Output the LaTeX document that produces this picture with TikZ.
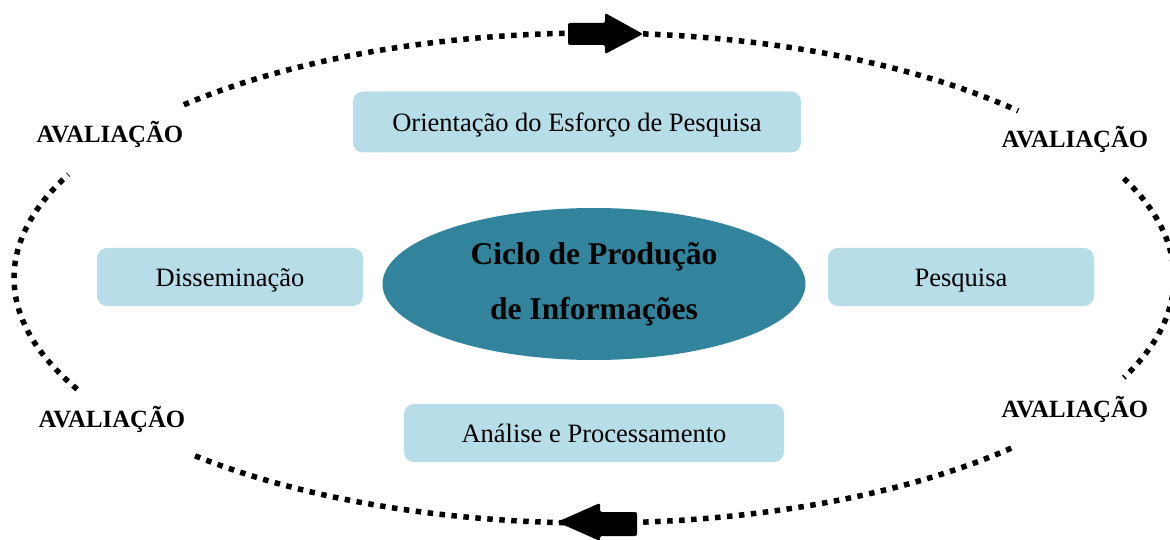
\documentclass[tikz,border=0pt]{standalone}
\usepackage{fontspec}
\setmainfont{Liberation Serif}
\usetikzlibrary{shapes.geometric}
\definecolor{caixa}{HTML}{B7DDE8}
\definecolor{centro}{HTML}{31849B}

\begin{document}
\begin{tikzpicture}[x=1pt, y=-1pt,
        etapa/.style={fill=caixa, rounded corners=10pt, inner sep=0pt, minimum height=58pt, text height=24.5pt, text depth=6pt, font=\fontsize{26.5}{30}\selectfont},
        avaliacao/.style={anchor=base, font=\fontsize{24.8}{26}\selectfont\bfseries},
        pontilhado/.style={line width=5.5pt, dash pattern=on 5.5pt off 6.5pt},
        seta/.style={fill=black, rounded corners=2pt}]
        \clip (0,0) rectangle (1170,540);
        \coordinate (c) at (594,278);

        % centro
        \node [ellipse, fill=centro, minimum width=423pt, minimum height=152pt, inner sep=0pt, align=center,
            font=\fontsize{31.6}{55}\selectfont\bfseries] (ciclo) at (594,284) {Ciclo de Produção\\de Informações};

        % etapas
        \node [etapa, minimum width=448pt, minimum height=61pt] (orientacao) at (577,122) {Orientação do Esforço de Pesquisa};
        \node [etapa, minimum width=266pt] (disseminacao) at (230,277) {Disseminação};
        \node [etapa, minimum width=266pt] (pesquisa) at (961,277) {Pesquisa};
        \node [etapa, minimum width=380pt] (analise) at (594,433) {Análise e Processamento};

        % avaliacao
        \node [avaliacao] (aval1) at (110,143) {AVALIAÇÃO};
        \node [avaliacao] (aval2) at (1075,148) {AVALIAÇÃO};
        \node [avaliacao] (aval3) at (112,427) {AVALIAÇÃO};
        \node [avaliacao] (aval4) at (1075,417) {AVALIAÇÃO};

        % ciclo pontilhado
        \draw [pontilhado] (c) ++(-135:580 and 245) arc [start angle=-135, end angle=-43, x radius=580, y radius=245];
        \draw [pontilhado] (c) ++(-24:580 and 245) arc [start angle=-24, end angle=24, x radius=580, y radius=245];
        \draw [pontilhado] (c) ++(44:580 and 245) arc [start angle=44, end angle=134, x radius=580, y radius=245];
        \draw [pontilhado] (c) ++(153:580 and 245) arc [start angle=153, end angle=205, x radius=580, y radius=245];

        % setas
        \fill [seta] (568,23) -- (605,23) -- (605,13) -- (643,34) -- (605,54) -- (605,45) -- (568,45) -- cycle;
        \fill [seta] (637,512) -- (600,512) -- (600,503) -- (557,522) -- (600,541) -- (600,536) -- (637,536) -- cycle;
    \end{tikzpicture}
\end{document}
